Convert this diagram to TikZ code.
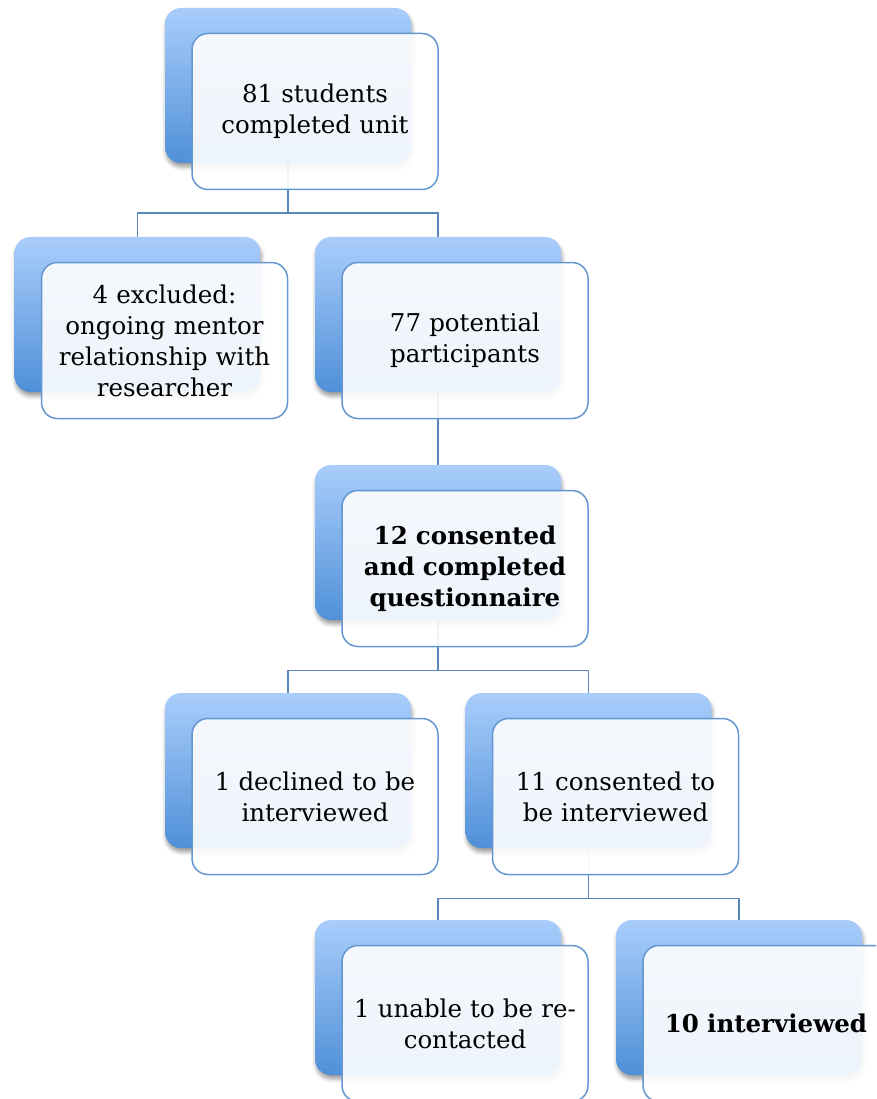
\documentclass[tikz,border=0pt]{standalone}
\usepackage{fontspec}
\setmainfont{DejaVu Serif}
\usetikzlibrary{shadows.blur,calc}
\pgfdeclarelayer{bg}
\pgfsetlayers{bg,main}
\definecolor{backtop}{HTML}{A9CDFB}
\definecolor{backbot}{HTML}{5090D8}
\definecolor{edgeblue}{HTML}{6496CF}
\definecolor{linkblue}{HTML}{5A87BD}
\tikzset{
  backbox/.style={rectangle, rounded corners=16pt, minimum width=246pt, minimum height=155pt,
    top color=backtop, bottom color=backbot, draw=none,
    blur shadow={shadow xshift=1pt, shadow yshift=-4pt, shadow blur radius=4pt, shadow opacity=40}},
  frontbox/.style={rectangle, rounded corners=16pt, minimum width=246pt, minimum height=156pt,
    draw=edgeblue, line width=1.5pt, fill=white, fill opacity=0.9, text opacity=1,
    align=center, font=\fontsize{24.5}{31}\selectfont, text width=236pt, inner sep=0pt},
  link/.style={draw=linkblue, line width=1.5pt}
}
\begin{document}
\begin{tikzpicture}[x=1pt,y=-1pt]
  \useasboundingbox (0,0) rectangle (876,1099);
  \clip (0,0) rectangle (876,1099);

  % stacked card pairs: blue card behind, pale card in front
  \node[backbox] (b1) at (288,85.5) {};
  \node[frontbox] (f1) at ($(b1)+(27,26)$) {81 students\\completed unit};

  \node[backbox] (b2) at (137.5,314.5) {};
  \node[frontbox] (f2) at ($(b2)+(27,26)$) {4 excluded:\\ongoing mentor\\relationship with\\researcher};

  \node[backbox] (b3) at (438,314.5) {};
  \node[frontbox] (f3) at ($(b3)+(27,26)$) {77 potential\\participants};

  \node[backbox] (b4) at (438,542.5) {};
  \node[frontbox] (f4) at ($(b4)+(27,26)$) {\bfseries 12 consented\\\bfseries and completed\\\bfseries questionnaire};

  \node[backbox] (b5) at (288,770.5) {};
  \node[frontbox] (f5) at ($(b5)+(27,26)$) {1 declined to be\\interviewed};

  \node[backbox] (b6) at (588.5,770.5) {};
  \node[frontbox] (f6) at ($(b6)+(27,26)$) {11 consented to\\be interviewed};

  \node[backbox] (b7) at (438,997.5) {};
  \node[frontbox] (f7) at ($(b7)+(27,26)$) {1 unable to be re-\\contacted};

  \node[backbox] (b8) at (739,997.5) {};
  \node[frontbox] (f8) at ($(b8)+(27,26)$) {\bfseries 10 interviewed};

  % elbow connectors between the blue cards
  \begin{pgfonlayer}{bg}
    \coordinate (j1) at ($(f1.south)+(0,23)$);
    \coordinate (j4) at ($(f4.south)+(0,23)$);
    \coordinate (j6) at ($(f6.south)+(0,23)$);
    \draw[link] (b1.south) -- (b1.south |- j1) -| (b2.north);
    \draw[link] (b1.south |- j1) -| (b3.north);
    \draw[link] (b3.south) -- (b4.north);
    \draw[link] (b4.south) -- (b4.south |- j4) -| (b5.north);
    \draw[link] (b4.south |- j4) -| (b6.north);
    \draw[link] (b6.south) -- (b6.south |- j6) -| (b7.north);
    \draw[link] (b6.south |- j6) -| (b8.north);
  \end{pgfonlayer}
\end{tikzpicture}
\end{document}
